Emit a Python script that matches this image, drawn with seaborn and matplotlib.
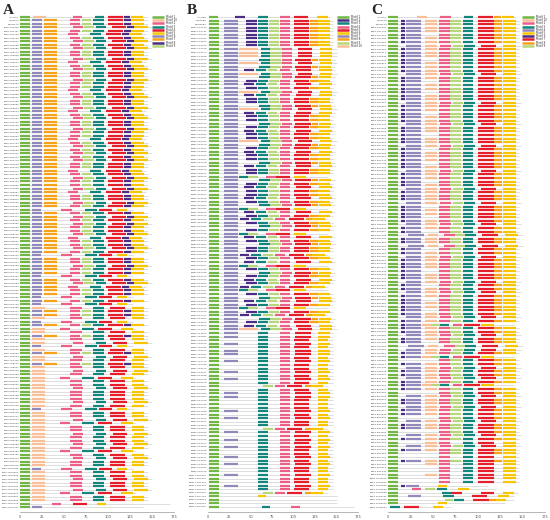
import matplotlib
matplotlib.use("Agg")
import matplotlib.pyplot as plt
import pandas as pd
import seaborn as sns

sns.set_style("white")
plt.rcParams['font.family'] = ['DejaVu Sans']

# colores de los motivos
GREEN = "#71b544"
PEACH = "#f8bf98"
PINK = "#ec5f86"
TEAL = "#13857a"
RED = "#e41e2b"
YELLOW = "#f7c600"
LAVENDER = "#9089b9"
ORANGE = "#f7a21b"
DPURPLE = "#4b2d84"
LGREEN = "#b6d77b"

# leyendas (orden de MEME)
A_legend = ["Motif 1", "Motif 10", "Motif 2", "Motif 3", "Motif 4",
            "Motif 5", "Motif 6", "Motif 7", "Motif 8", "Motif 9"]
A_colors = [GREEN, PEACH, PINK, TEAL, RED, YELLOW, LAVENDER, ORANGE, DPURPLE, LGREEN]
B_legend = ["Motif 1", "Motif 2", "Motif 3", "Motif 4", "Motif 5",
            "Motif 6", "Motif 7", "Motif 8", "Motif 9", "Motif 10"]
B_colors = [GREEN, DPURPLE, TEAL, PINK, RED, YELLOW, LAVENDER, ORANGE, LGREEN, PEACH]
C_legend = ["Motif 1", "Motif 10", "Motif 2", "Motif 3", "Motif 4",
            "Motif 5", "Motif 6", "Motif 7", "Motif 8", "Motif 9"]
C_colors = [GREEN, PEACH, PINK, TEAL, LAVENDER, YELLOW, DPURPLE, RED, ORANGE, LGREEN]

# arquitecturas de motivos: (motivo, inicio, fin) en aa, y longitud
A_templates = {
    'q': ([(1, 0, 11), (10, 15, 29), (2, 60, 70), (3, 85, 95), (4, 100, 117), (8, 118, 125), (5, 126, 140)], 145),
    'a': ([(1, 0, 11), (6, 14, 25), (7, 27, 42), (2, 57, 68), (9, 70, 81), (3, 83, 95), (4, 100, 117), (8, 118, 126), (5, 126, 141)], 145),
    'b': ([(1, 0, 11), (6, 14, 25), (7, 27, 42), (2, 60, 72), (9, 73, 84), (3, 86, 98), (4, 104, 121), (8, 122, 130), (5, 130, 146)], 150),
    'c': ([(1, 0, 11), (6, 14, 25), (7, 27, 42), (2, 55, 66), (3, 80, 92), (4, 98, 115), (8, 116, 124), (5, 124, 139)], 143),
    'r': ([(1, 0, 11), (6, 14, 24), (2, 47, 59), (3, 74, 87), (4, 90, 104), (5, 110, 122)], 128),
    'p': ([(1, 0, 11), (10, 14, 28), (2, 57, 70), (3, 83, 95), (4, 102, 119), (5, 127, 141)], 146),
    'o': ([(1, 0, 11), (10, 14, 28), (2, 60, 72), (3, 86, 98), (4, 106, 122), (5, 130, 145)], 150),
    's': ([(1, 0, 11), (10, 14, 28), (2, 45, 57), (3, 71, 84), (4, 89, 105), (5, 115, 128)], 132),
    'x': ([(1, 0, 11), (2, 36, 47), (4, 60, 76), (5, 87, 98)], 170),
    'y': ([(1, 0, 11), (6, 14, 25)], 140),
}
A_rows = ("qaabacabab" "aabcabaaba" "acabaabcab" "aabaacabab" "abaacabaab"
          "caabarabab" "aabcaabara" "abaarabcaa" "rarpaapras" "paporpaopa"
          "popsppoppp" "oprpposppo" "ppopspoppr" "ppopposppxy")

B_templates = {
    'q': ([(1, 1, 12), (2, 32, 44), (3, 58, 70), (4, 84, 96), (5, 100, 117), (6, 127, 140)], 144),
    'a': ([(1, 1, 13), (7, 19, 35), (2, 45, 57), (3, 58, 70), (9, 71, 83), (4, 84, 96), (5, 100, 118), (8, 119, 128), (6, 128, 142)], 146),
    'b': ([(1, 1, 13), (7, 19, 35), (3, 60, 72), (9, 73, 85), (4, 86, 98), (5, 102, 120), (8, 121, 129), (6, 130, 144)], 148),
    'c': ([(1, 1, 13), (7, 19, 35), (2, 42, 54), (3, 56, 68), (9, 70, 81), (4, 84, 96), (5, 103, 120), (6, 130, 145)], 148),
    'p': ([(1, 1, 13), (7, 19, 35), (10, 36, 58), (3, 62, 73), (9, 73, 86), (4, 86, 98), (5, 105, 122), (6, 131, 145)], 150),
    'd': ([(1, 1, 13), (7, 19, 35), (2, 38, 48), (3, 50, 62), (9, 64, 76), (4, 78, 90), (5, 95, 112), (8, 114, 122), (6, 122, 136)], 140),
    'e': ([(1, 1, 13), (7, 19, 35), (3, 36, 47), (9, 47, 59), (4, 68, 80), (5, 80, 96), (6, 100, 114)], 140),
    'f': ([(1, 1, 13), (3, 58, 70), (4, 84, 96), (5, 100, 118), (6, 128, 140)], 146),
    'g': ([(1, 1, 13), (7, 19, 35), (3, 58, 70), (4, 84, 96), (5, 102, 120), (6, 128, 142)], 146),
    'h': ([(1, 1, 13), (9, 64, 76), (4, 78, 90), (5, 92, 110), (8, 113, 120), (6, 120, 134)], 140),
    'k': ([(1, 1, 13), (6, 58, 68)], 150),
    'z': ([(1, 1, 13)], 150),
    'w': ([(1, 1, 13), (3, 63, 73), (4, 97, 108)], 170),
}
B_rows = ("qaaaaaaaap" "ppbpbcpbac" "apcaabpcaa" "bacaapbaca" "abcaaebaca"
          "acabecadab" "aecabaadac" "eabacadeab" "caeadbacpg" "gfgfggfgff"
          "gfgfhfggff" "fgfgffhgfg" "fgffgfgffg" "ffgfhkzzw")

C_templates = {
    'q': ([(1, 0, 11), (10, 32, 43), (2, 58, 70), (3, 84, 95), (7, 100, 117), (8, 118, 126), (5, 127, 140)], 143),
    'a': ([(1, 0, 11), (6, 14, 19), (4, 20, 37), (10, 41, 54), (2, 57, 69), (9, 69, 81), (3, 83, 95), (7, 100, 118), (8, 118, 127), (5, 128, 143)], 146),
    'b': ([(1, 0, 11), (4, 20, 37), (10, 41, 54), (2, 58, 70), (9, 72, 83), (3, 85, 97), (7, 103, 120), (5, 128, 143)], 148),
    'c': ([(1, 0, 11), (6, 14, 19), (4, 20, 37), (2, 57, 69), (9, 69, 81), (3, 83, 95), (7, 100, 118), (8, 118, 127), (5, 128, 143)], 146),
    'd': ([(1, 0, 11), (4, 22, 40), (10, 44, 56), (2, 62, 74), (9, 74, 86), (3, 86, 98), (7, 105, 122), (5, 130, 145)], 150),
    'e': ([(1, 0, 11), (6, 14, 19), (4, 20, 37), (10, 38, 48), (9, 48, 58), (3, 58, 68), (2, 72, 82), (7, 85, 102), (5, 104, 118)], 140),
    'f': ([(1, 0, 11), (10, 41, 54), (2, 57, 69), (3, 83, 95), (7, 100, 118), (5, 128, 143)], 146),
    'g': ([(1, 0, 11), (2, 57, 69), (9, 69, 81), (3, 83, 95), (7, 100, 118), (8, 118, 127), (5, 128, 143)], 146),
    'h': ([(1, 0, 11), (2, 57, 69), (3, 83, 95), (7, 100, 118), (5, 128, 143)], 146),
    'i': ([(1, 0, 11), (6, 14, 19), (4, 20, 34), (5, 56, 66)], 110),
    'j': ([(1, 0, 11), (2, 26, 37), (9, 41, 52), (3, 54, 65), (5, 78, 90)], 120),
    'k': ([(1, 0, 11), (3, 60, 70), (7, 70, 82), (7, 103, 118), (5, 128, 140)], 145),
    'm': ([(1, 0, 11), (4, 22, 36), (3, 61, 73), (7, 94, 110), (5, 123, 135)], 140),
    'n': ([(1, 0, 11), (9, 63, 72), (3, 73, 85), (7, 95, 112), (8, 113, 120), (5, 120, 132)], 140),
    'o': ([(1, 0, 11), (5, 55, 65)], 130),
    'r': ([(3, 2, 13), (7, 18, 34), (5, 50, 61)], 70),
}
C_rows = ("qaaaacaaba" "aacaaabaca" "acaabaacaa" "baacaabcaa" "acabaacaba"
          "aabcaacaba" "cdaadcabaa" "acaabcabac" "aacabaeaab" "acdbaegaba"
          "abaeagbaab" "aagbaagbaf" "baghafhhfh" "hijkmnor")

# etiquetas de genes
A_refs = ["AtHSFA1", "OsHSFA2", "ZmHSFA3"]
B_refs = ["AtHSFB1", "OsHSFB2", "ZmHSFB3"]
C_refs = ["AtHSFC1", "OsHSFC2", "ZmHSFC3"]
A_prefix, B_prefix, C_prefix = "Pavir.", "Sobic.", "Seita."

x_ticks = [0, 25, 50, 75, 100, 125, 150, 175]

panels = [
    ("A", A_templates, A_rows, A_legend, A_colors, A_refs, A_prefix, 20.0, 174.0, 152.0, 3),
    ("B", B_templates, B_rows, B_legend, B_colors, B_refs, B_prefix, 207.7, 358.0, 337.0, 187),
    ("C", C_templates, C_rows, C_legend, C_colors, C_refs, C_prefix, 388.3, 545.0, 522.0, 371),
]

W, H = 550, 520
fig = plt.figure(figsize=(5.5, 5.2), dpi=100)
top_px, first_px, last_px, axis_px = 14, 17, 507, 512

lg = fig.add_axes([0, 0, 1, 1])
lg.set_xlim(0, W)
lg.set_ylim(H, 0)
lg.axis("off")
lg.patch.set_alpha(0)

for letter, templates, rows, legend, colors, refs, prefix, x0, x1, lx, tx in panels:
    n = len(rows)
    # tabla de segmentos
    recs = []
    lens = []
    for i, code in enumerate(rows):
        motifs, length = templates[code]
        lens.append(length)
        for m, s, e in motifs:
            recs.append({"row": i, "motif": f"Motif {m}", "start": s, "end": e})
    df = pd.DataFrame(recs)
    names = refs + [f"{prefix}{(i // 14) + 1}G{(i * 731) % 9000 + 1000:04d}"
                    for i in range(n - len(refs))]

    ax = fig.add_axes([x0 / W, (H - axis_px) / H, (x1 - x0) / W, (axis_px - top_px) / H])
    ax.patch.set_alpha(0)
    s = (last_px - first_px) / (n - 1)
    ax.hlines(range(n), 0, lens, color="#d0d0d0", lw=0.5, zorder=1)
    cmap = dict(zip(legend, colors))
    for motif, grp in df.groupby("motif"):
        ax.hlines(grp["row"], grp["start"], grp["end"], color=cmap[motif],
                  lw=1.6, zorder=2)
    ax.set_xlim(0, 175)
    ax.set_ylim((axis_px - first_px) / s, -(first_px - top_px) / s)
    ax.set_yticks(range(n))
    ax.set_yticklabels(names, fontsize=1.7, color="#444444")
    ax.tick_params(axis="y", length=0, pad=0.6)
    ax.set_xticks(x_ticks)
    ax.set_xticklabels([str(t) for t in x_ticks], fontsize=2.6, color="#555555")
    ax.tick_params(axis="x", length=1.5, width=0.4, color="#999999", pad=0.8)
    sns.despine(ax=ax, left=True)
    ax.spines["bottom"].set_color("#aaaaaa")
    ax.spines["bottom"].set_linewidth(0.6)
    ax.spines["bottom"].set_bounds(0, 175)
    ax.grid(False)

    # leyenda
    ly = [17 + k * 3.2 for k in range(len(legend))]
    lg.hlines(ly, lx, lx + 12, colors=colors, lw=1.8)
    for yy, lab in zip(ly, legend):
        lg.text(lx + 14, yy, lab, fontsize=2.0, va="center", ha="left", color="#333333")
    lg.text(tx, 13.5, letter, fontsize=11, fontweight="bold",
            family=["Liberation Serif", "DejaVu Serif"], va="baseline", ha="left")

fig.savefig("out.png", dpi=100)
